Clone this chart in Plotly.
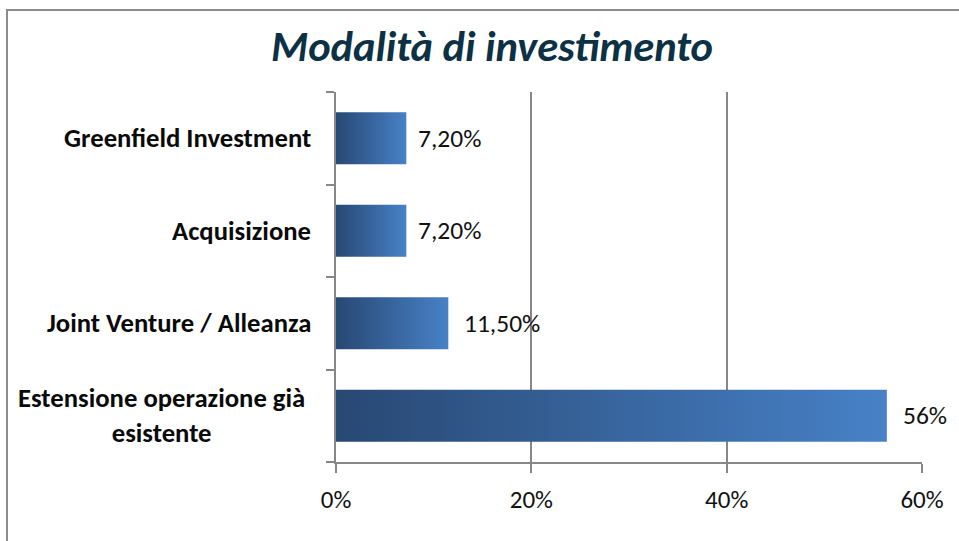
import plotly.graph_objects as go

categories = ["Greenfield Investment", "Acquisizione", "Joint Venture / Alleanza",
              "Estensione operazione già<br>esistente"]
values = [7.2, 7.2, 11.5, 56.4]
value_labels = ["7,20%", "7,20%", "11,50%", "56%"]
x_ticks = [0, 20, 40, 60]
x_tick_labels = ["0%", "20%", "40%", "60%"]

FONT = "Carlito, Lato, 'Open Sans', sans-serif"
GRID = "#878787"

fig = go.Figure()
half = 0.28
for i, (cat, v) in enumerate(zip(categories, values)):
    fig.add_trace(go.Scatter(
        x=[0, v, v, 0, 0],
        y=[i - half, i - half, i + half, i + half, i - half],
        mode="lines", line=dict(width=0), fill="toself",
        fillgradient=dict(type="horizontal",
                          colorscale=[[0, "#284873"], [1, "#4781c7"]]),
        name=cat.replace("<br>", " "), hoverinfo="skip", showlegend=False))

annotations = []
for i, (cat, v, lab) in enumerate(zip(categories, values, value_labels)):
    annotations.append(dict(x=v, y=i, xref="x", yref="y", text=lab, showarrow=False,
                            xanchor="left", yanchor="middle", xshift=10 if v < 10 else 14,
                            font=dict(family=FONT, size=25.5, color="#111111")))
    annotations.append(dict(x=0, y=i, xref="x", yref="y", text="<b>" + cat + "</b>",
                            showarrow=False, xanchor="right", yanchor="middle",
                            align="center", xshift=-23 if "<br>" not in cat else -29,
                            font=dict(family=FONT, size=26.7, color="#0a0a0a")))

fig.update_layout(
    width=959, height=541,
    margin=dict(l=336, r=37, t=92, b=79),
    paper_bgcolor="white", plot_bgcolor="white",
    title=dict(text="<b><i>Modalità di investimento</i></b>", xref="container", yref="container",
               x=0.513, y=0.915, xanchor="center", yanchor="middle",
               font=dict(family=FONT, size=42.5, color="#0c3144")),
    annotations=annotations,
    xaxis=dict(range=[0, 60], tickvals=x_ticks, ticktext=x_tick_labels,
               showgrid=True, gridcolor=GRID, gridwidth=1.5,
               showline=True, linecolor=GRID, linewidth=1.5,
               ticks="outside", ticklen=9, tickcolor=GRID, tickwidth=1.5,
               ticklabelstandoff=5,
               zeroline=False, tickfont=dict(family=FONT, size=25, color="#111111")),
    yaxis=dict(range=[3.5, -0.5], tickvals=[0, 1, 2, 3], ticktext=["", "", "", ""],
               showgrid=False, zeroline=False,
               showline=True, linecolor=GRID, linewidth=1.5, ticks="",
               minor=dict(tickmode="array", tickvals=[-0.5, 0.5, 1.5, 2.5, 3.5],
                          ticks="outside", ticklen=8, tickcolor=GRID, tickwidth=1.5,
                          showgrid=False)),
    shapes=[dict(type="rect", xref="paper", yref="paper",
                 x0=(7 - 336) / 586, x1=(965 - 336) / 586,
                 y0=-0.25, y1=(462 - 10) / 370,
                 line=dict(color="#8c8c8c", width=2), fillcolor="rgba(0,0,0,0)", layer="below")],
)

fig.write_html("out.html", config={"displayModeBar": False},
               post_script="document.body.style.margin='0px';")
